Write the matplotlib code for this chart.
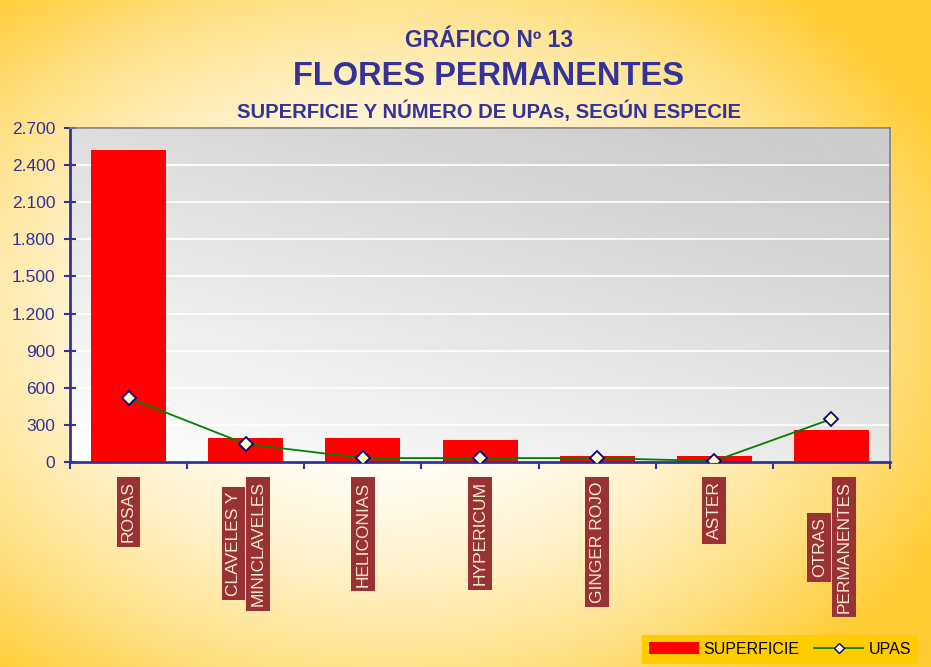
import numpy as np
import matplotlib.pyplot as plt
from matplotlib.lines import Line2D
from matplotlib.patches import Patch
from matplotlib.ticker import FuncFormatter, MultipleLocator
import matplotlib.transforms as mtransforms

plt.rcParams['font.family'] = ['Liberation Sans', 'DejaVu Sans']

especies = [['ROSAS'], ['CLAVELES Y', 'MINICLAVELES'], ['HELICONIAS'], ['HYPERICUM'],
            ['GINGER ROJO'], ['ASTER'], ['OTRAS', 'PERMANENTES']]
superficie = [2525, 195, 192, 178, 50, 50, 260]
upas = [518, 146, 32, 32, 32, 8, 348]

azul = '#333399'

fig = plt.figure(figsize=(9.31, 6.67), dpi=100)

# fondo degradado amarillo
bg = fig.add_axes([0, 0, 1, 1], zorder=-10)
yy, xx = np.mgrid[0:1:300j, 0:1:400j]
d = np.sqrt(((xx - 0.42) / 0.75) ** 2 + ((yy - 0.5) / 0.75) ** 2)
d = np.clip(d * 1.35 - 0.2, 0, 1) ** 1.6
c0 = np.array([1.0, 1.0, 1.0])
c1 = np.array([1.0, 0.80, 0.20])
img = c0[None, None, :] * (1 - d[..., None]) + c1[None, None, :] * d[..., None]
bg.imshow(img, extent=[0, 1, 0, 1], aspect='auto', origin='upper')
bg.axis('off')

ax = fig.add_axes([0.0752, 0.3073, 0.8808, 0.5007])

# fondo gris del area de trazado
gy, gx = np.mgrid[0:1:200j, 0:1:200j]
t = np.clip(0.65 * gy + 0.45 * gx, 0, 1)
g = 1.0 - 0.20 * t
gimg = np.dstack([g, g, g])
ax.imshow(gimg, extent=[0, 1, 0, 1], transform=ax.transAxes, aspect='auto',
          origin='lower', zorder=0)

x = np.arange(len(especies))
ax.set_xlim(-0.5, len(especies) - 0.5)
ax.set_ylim(0, 2700)
ax.yaxis.set_major_locator(MultipleLocator(300))
ax.yaxis.set_major_formatter(FuncFormatter(lambda v, p: f'{int(v):,}'.replace(',', '.')))
ax.grid(axis='y', color='white', linewidth=1.2, zorder=1)
ax.set_axisbelow(True)

ax.bar(x, superficie, width=0.64, color='#ff0000', zorder=2)
ax.plot(x, upas, color='#008000', linewidth=1.3, marker='D', markersize=7.5,
        markerfacecolor='#ffffcc', markeredgecolor='#000080', markeredgewidth=1.3, zorder=3)

for s in ['left', 'bottom']:
    ax.spines[s].set_color(azul)
    ax.spines[s].set_linewidth(2)
for s in ['top', 'right']:
    ax.spines[s].set_color('#808080')
    ax.spines[s].set_linewidth(1.2)

ax.tick_params(axis='y', colors=azul, labelsize=12.5, direction='inout', length=9,
               width=1.5, pad=6)
ax.set_xticks(np.arange(len(especies) + 1) - 0.5)
ax.set_xticklabels([])
ax.tick_params(axis='x', colors=azul, direction='out', length=5, width=1.5)

# etiquetas de categoria, verticales con fondo granate
trans = mtransforms.blended_transform_factory(ax.transData, ax.transAxes)
fig.canvas.draw()
rend = fig.canvas.get_renderer()
lab_kw = dict(rotation=90, fontsize=12.5, color='#fbe9cf', ha='center', transform=trans,
              bbox=dict(boxstyle='square,pad=0.25', facecolor='#993333', edgecolor='none'))
y0 = -0.058
for i, lineas in enumerate(especies):
    n = len(lineas)
    offs = (np.arange(n) - (n - 1) / 2) * 0.21
    largo = max(lineas, key=len)
    j = lineas.index(largo)
    tl = ax.text(i + offs[j], y0, largo, va='top', **lab_kw)
    bb = tl.get_window_extent(rend)
    cy = ax.transAxes.inverted().transform((0, (bb.y0 + bb.y1) / 2))[1]
    for k, ln in enumerate(lineas):
        if k != j:
            ax.text(i + offs[k], cy, ln, va='center', **lab_kw)

fig.text(0.525, 0.940, 'GRÁFICO Nº 13', ha='center', va='center', fontsize=16.5,
         fontweight='bold', color=azul)
fig.text(0.525, 0.885, 'FLORES PERMANENTES', ha='center', va='center', fontsize=23.5,
         fontweight='bold', color=azul)
fig.text(0.525, 0.833, 'SUPERFICIE Y NÚMERO DE UPAs, SEGÚN ESPECIE', ha='center',
         va='center', fontsize=14.6, fontweight='bold', color=azul)

handles = [Patch(facecolor='#ff0000', edgecolor='none'),
           Line2D([], [], color='#008000', linewidth=1.3, marker='D', markersize=5,
                  markerfacecolor='#ffffcc', markeredgecolor='#000080')]
leg = fig.legend(handles, ['SUPERFICIE', 'UPAS'], loc='lower right',
                 bbox_to_anchor=(0.986, 0.0045), ncol=2, frameon=True, fancybox=False,
                 fontsize=11.5, handlelength=3.1, handleheight=0.8, columnspacing=0.9,
                 handletextpad=0.3, borderpad=0.45, borderaxespad=0)
leg.get_frame().set_facecolor('#ffcc00')
leg.get_frame().set_edgecolor('none')
leg.get_frame().set_alpha(1)

fig.savefig('out.png', dpi=100)
